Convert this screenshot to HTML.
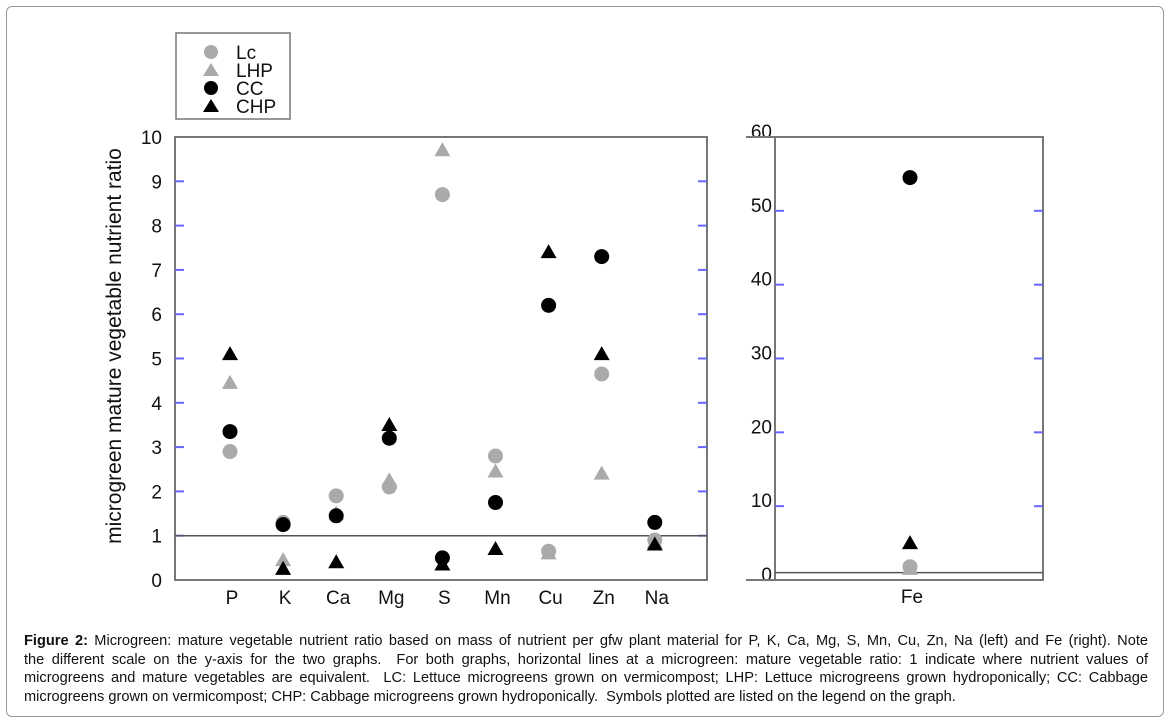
<!DOCTYPE html>
<html><head><meta charset="utf-8"><style>
body{margin:0;background:#fff;width:1175px;height:727px;overflow:hidden;font-family:"Liberation Sans",Arial,sans-serif}
#frame{position:absolute;left:6px;top:6px;width:1156px;height:709px;border:1px solid #999;border-radius:6px}
#cap{position:absolute;left:24px;top:632px;width:1124px;font-size:14.6px;line-height:18.5px;color:#111}
#cap div{white-space:nowrap;text-align:justify;text-align-last:justify}
#cap div.last{text-align-last:left}
</style></head><body>
<div id="frame"></div>
<svg id="svg" width="1175" height="727" style="position:absolute;left:0;top:0"></svg>
<div id="cap">
<div><b>Figure 2:</b> Microgreen: mature vegetable nutrient ratio based on mass of nutrient per gfw plant material for P, K, Ca, Mg, S, Mn, Cu, Zn, Na (left) and Fe (right). Note</div>
<div>the different scale on the y-axis for the two graphs.&nbsp; For both graphs, horizontal lines at a microgreen: mature vegetable ratio: 1 indicate where nutrient values of</div>
<div>microgreens and mature vegetables are equivalent.&nbsp; LC: Lettuce microgreens grown on vermicompost; LHP: Lettuce microgreens grown hydroponically; CC: Cabbage</div>
<div class="last">microgreens grown on vermicompost; CHP: Cabbage microgreens grown hydroponically.&nbsp; Symbols plotted are listed on the legend on the graph.</div>
</div>
<script>
const categories=["P","K","Ca","Mg","S","Mn","Cu","Zn","Na"];
const lc=[2.9,1.3,1.9,2.1,8.7,2.8,0.65,4.65,0.9];
const lhp=[4.45,0.45,1.5,2.25,9.7,2.45,0.6,2.4,0.85];
const cc=[3.35,1.25,1.45,3.2,0.5,1.75,6.2,7.3,1.3];
const chp=[5.1,0.25,0.4,3.5,0.35,0.7,7.4,5.1,0.8];
const feCategories=["Fe"];
const feLc=[1.8],feLhp=[1.5],feCc=[54.5],feChp=[5];
const leftTicks=[0,1,2,3,4,5,6,7,8,9,10];
const rightTicks=[0,10,20,30,40,50,60];
const svg=document.getElementById('svg');const NS='http://www.w3.org/2000/svg';
function mk(t,a,p){const e=document.createElementNS(NS,t);for(const k in a)e.setAttribute(k,a[k]);(p||svg).appendChild(e);return e;}
function txt(x,y,s,size,anchor){const e=mk('text',{x:x,y:y,'font-size':size,'text-anchor':anchor||'middle',fill:'#111'});e.textContent=s;return e;}
const L={x0:175,x1:707,y0:580,y1:137,max:10};
const R={x0:775,x1:1043,y0:580,y1:137,max:60};
const ly=v=>L.y0-(L.y0-L.y1)*v/L.max;
const ry=v=>R.y0-(R.y0-R.y1)*v/R.max;
const lx=i=>230+i*53.1;
const rx=i=>910;
function panel(P,yf,ticks,name){
 const g=mk('g',{});
 
 
 const r=mk('rect',{x:P.x0,y:P.y1,width:P.x1-P.x0,height:P.y0-P.y1,fill:'none',stroke:'#777','stroke-width':2},g);
 
 ticks.forEach(t=>{const y=yf(t);
  if(t>0&&t<P.max){mk('line',{x1:P.x0,x2:P.x0+9,y1:y,y2:y,stroke:'#66f','stroke-width':2},g);mk('line',{x1:P.x1-9,x2:P.x1,y1:y,y2:y,stroke:'#66f','stroke-width':2},g);}
  const tl=txt(P.x0-(name==='right-panel'?3:13),y+(name==='right-panel'?1:7),String(t),19,'end');});
 const h=mk('line',{x1:P.x0,x2:P.x1,y1:yf(1),y2:yf(1),stroke:'#555','stroke-width':1.5},g);
 
}
panel(L,ly,leftTicks,'left-panel');
panel(R,ry,rightTicks,'right-panel');
mk('line',{x1:746,x2:775,y1:580,y2:580,stroke:'#777','stroke-width':2});
mk('line',{x1:746,x2:775,y1:137,y2:137,stroke:'#777','stroke-width':2});
function circ(x,y,c){const e=mk('circle',{cx:x,cy:y,r:7.5,fill:c});}
function tri(x,y,c){const e=mk('polygon',{points:`${x-8},${y+6} ${x+8},${y+6} ${x},${y-8}`,fill:c});}
categories.forEach((c,i)=>{const x=lx(i);
 tri(x,ly(lhp[i]),'#aaa');circ(x,ly(lc[i]),'#aaa');circ(x,ly(cc[i]),'#000');tri(x,ly(chp[i]),'#000');
 const t=txt(x+2,604,c,19);});
feCategories.forEach((c,i)=>{const x=rx(i);
 tri(x,ry(feLhp[i]),'#aaa');circ(x,ry(feLc[i]),'#aaa');circ(x,ry(feCc[i]),'#000');tri(x,ry(feChp[i]),'#000');
 const t=txt(x+2,603,c,19);});
const yt=mk('text',{x:0,y:0,'font-size':21,'text-anchor':'middle',fill:'#111',transform:'translate(121,346) rotate(-90)'});
yt.textContent='microgreen mature vegetable nutrient ratio';

const lg=mk('g',{});
mk('rect',{x:176,y:33,width:114,height:86,fill:'#fff',stroke:'#777','stroke-width':1.5},lg);
const items=[['Lc','c','#aaa'],['LHP','t','#aaa'],['CC','c','#000'],['CHP','t','#000']];
items.forEach((it,i)=>{const y=52+i*18;const g=mk('g',{},lg);
 if(it[1]==='c')mk('circle',{cx:211,cy:y,r:7,fill:it[2]},g);else mk('polygon',{points:`203,${y+6} 219,${y+6} 211,${y-7}`,fill:it[2]},g);
 const t=mk('text',{x:236,y:y+7,'font-size':19,fill:'#111'},g);t.textContent=it[0];});
</script>
</body></html>
